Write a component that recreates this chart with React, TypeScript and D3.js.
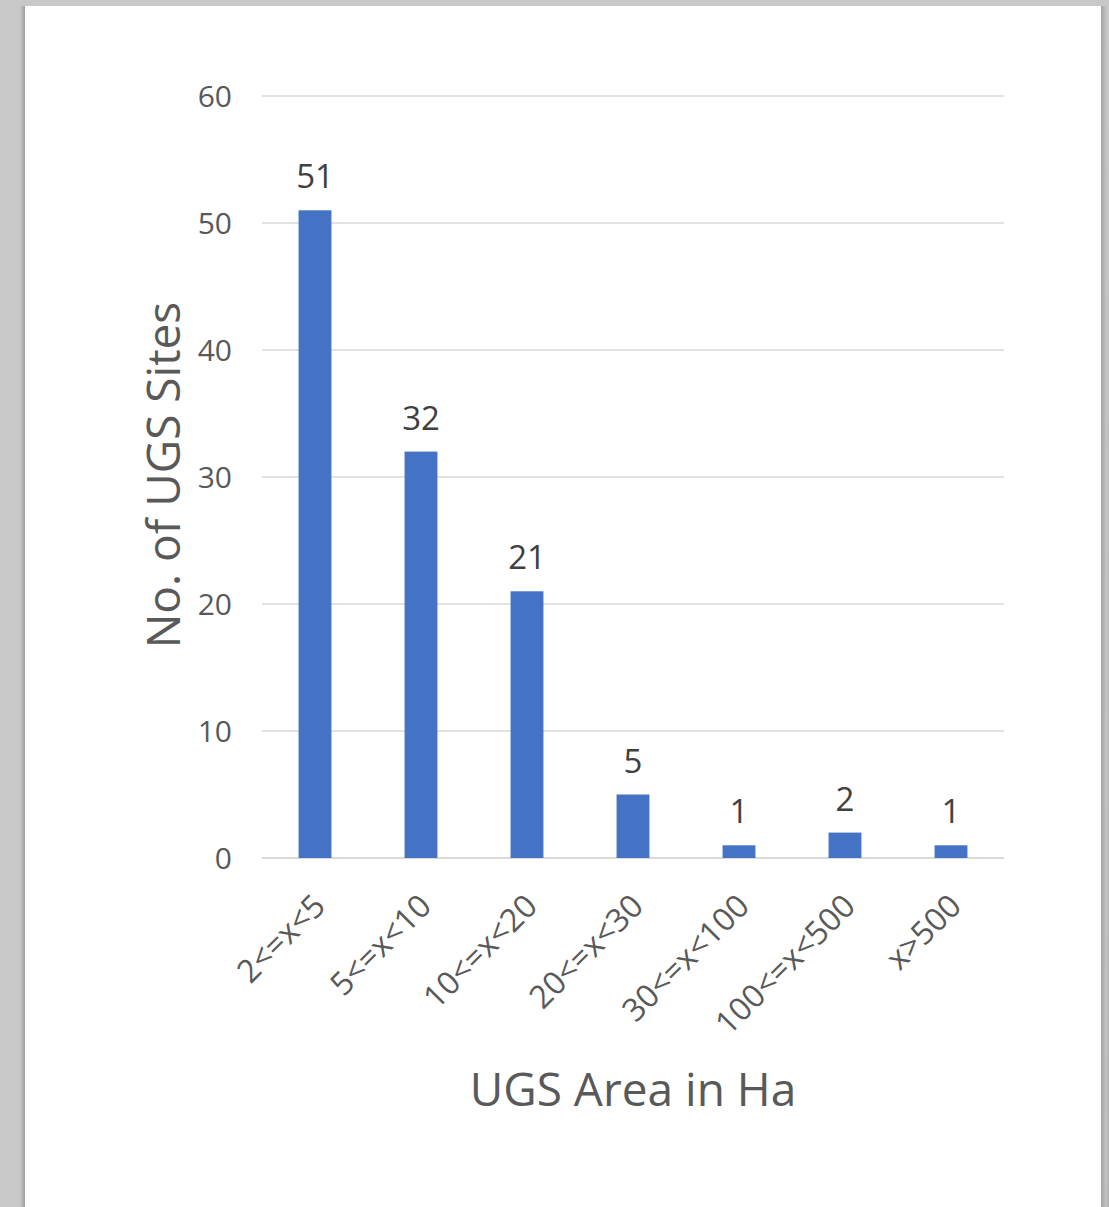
import React from "react";
import * as d3 from "d3";

const categories = ["2<=x<5", "5<=x<10", "10<=x<20", "20<=x<30", "30<=x<100", "100<=x<500", "x>500"];
const siteCounts = [51, 32, 21, 5, 1, 2, 1];
const yTicks = [0, 10, 20, 30, 40, 50, 60];

const W = 1109;
const H = 1207;
const FONT = "'Open Sans', 'DejaVu Sans', sans-serif";

export default function App() {
  const plot = { left: 262, right: 1004, top: 96, bottom: 858 };

  const x = d3
    .scaleBand<string>()
    .domain(categories)
    .range([plot.left, plot.right])
    .paddingInner(0.69)
    .paddingOuter(0.345);

  const y = d3.scaleLinear().domain([0, 60]).range([plot.bottom, plot.top]);

  return (
    <div style={{ position: "absolute", left: 0, top: 0 }}>
      <svg width={W} height={H} style={{ display: "block" }}>
        <defs>
          <linearGradient id="shadowL" x1="0" x2="1" y1="0" y2="0">
            <stop offset="0" stopColor="#c7c8c7" />
            <stop offset="1" stopColor="#9e9f9e" />
          </linearGradient>
          <linearGradient id="shadowR" x1="0" x2="1" y1="0" y2="0">
            <stop offset="0" stopColor="#a2a3a2" />
            <stop offset="1" stopColor="#c7c8c7" />
          </linearGradient>
          <linearGradient id="shadowT" x1="0" x2="0" y1="0" y2="1">
            <stop offset="0" stopColor="#c7c8c7" />
            <stop offset="1" stopColor="#b4b5b4" />
          </linearGradient>
        </defs>
        {/* viewer backdrop and page */}
        <rect x={0} y={0} width={W} height={H} fill="#c7c8c7" />
        <rect x={20} y={2} width={1090} height={H} fill="url(#shadowT)" />
        <rect x={20} y={6} width={5} height={H} fill="url(#shadowL)" />
        <rect x={1101} y={6} width={6} height={H} fill="url(#shadowR)" />
        <rect x={25} y={6} width={1076} height={H} fill="#ffffff" />

        {/* gridlines */}
        {yTicks.map((t) => (
          <line
            key={`g${t}`}
            x1={plot.left}
            x2={plot.right}
            y1={y(t)}
            y2={y(t)}
            stroke="#d9d9d9"
            strokeWidth={t === 0 ? 2 : 1.5}
          />
        ))}

        {/* y tick labels */}
        {yTicks.map((t) => (
          <text
            key={`t${t}`}
            x={232}
            y={y(t)}
            dy="0.36em"
            textAnchor="end"
            fontFamily={FONT}
            fontSize={30}
            fill="#595959"
          >
            {t}
          </text>
        ))}

        {/* bars */}
        {categories.map((c, i) => (
          <rect
            key={`b${c}`}
            x={x(c)}
            y={y(siteCounts[i])}
            width={x.bandwidth()}
            height={y(0) - y(siteCounts[i])}
            fill="#4472c4"
          />
        ))}

        {/* value labels */}
        {categories.map((c, i) => (
          <text
            key={`v${c}`}
            x={(x(c) as number) + x.bandwidth() / 2}
            y={y(siteCounts[i]) - 22}
            textAnchor="middle"
            fontFamily={FONT}
            fontSize={33}
            fill="#404040"
          >
            {siteCounts[i]}
          </text>
        ))}

        {/* category labels */}
        {categories.map((c) => {
          const cx = (x(c) as number) + x.bandwidth() / 2 + 4;
          const cy = 900;
          return (
            <text
              key={`c${c}`}
              transform={`translate(${cx},${cy}) rotate(-45)`}
              textAnchor="end"
              dy="0.36em"
              fontFamily={FONT}
              fontSize={32}
              fill="#595959"
            >
              {c}
            </text>
          );
        })}

        {/* axis titles */}
        <text
          x={633}
          y={1106}
          textAnchor="middle"
          fontFamily={FONT}
          fontSize={46}
          fill="#595959"
        >
          UGS Area in Ha
        </text>
        <text
          transform={`translate(180,475) rotate(-90)`}
          textAnchor="middle"
          fontFamily={FONT}
          fontSize={46}
          fill="#595959"
        >
          No. of UGS Sites
        </text>
      </svg>
    </div>
  );
}
